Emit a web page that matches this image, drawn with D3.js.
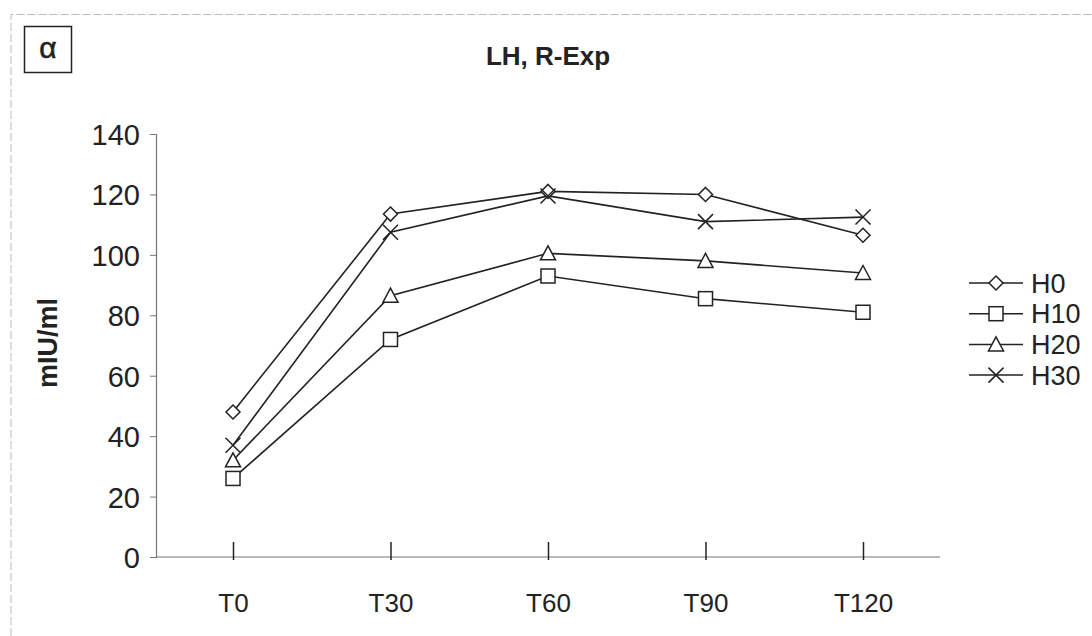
<!DOCTYPE html>
<html><head><meta charset="utf-8">
<script src="https://cdn.jsdelivr.net/npm/d3@7"></script>
<style>body{margin:0;background:#fff}svg{display:block}text{font-family:"Liberation Sans",Arial,sans-serif;fill:#222}</style>
</head><body><svg id="c" width="1092" height="636"></svg>
<script>
const categories = ["T0","T30","T60","T90","T120"];
const seriesNames = ["H0","H10","H20","H30"];
const H0  = [48, 113.5, 121, 120, 106.5];
const H10 = [26, 72, 93, 85.5, 81];
const H20 = [32, 86.5, 100.5, 98, 94];
const H30 = [37, 107.5, 119.5, 111, 112.5];
const yTicks = [0,20,40,60,80,100,120,140];
const title = "LH, R-Exp";
const yLabel = "mIU/ml";
const panelLabel = "α";

const series = [
  {name: seriesNames[0], values: H0, sym: "diamond"},
  {name: seriesNames[1], values: H10, sym: "square"},
  {name: seriesNames[2], values: H20, sym: "triangle"},
  {name: seriesNames[3], values: H30, sym: "cross"}
];

const svg = d3.select("#c");
const ink = "#222";
// outer frame (top and left edges visible in the scan)
svg.append("path").attr("d","M11,636V14.5H1092")
  .attr("fill","none").attr("stroke","#bbb").attr("stroke-width",1).attr("stroke-dasharray","8,3");

// panel label box
svg.append("rect").attr("x",24.5).attr("y",26.5).attr("width",47).attr("height",46)
  .attr("fill","#fff").attr("stroke",ink).attr("stroke-width",1.5);
svg.append("text").attr("x",48).attr("y",58).attr("text-anchor","middle")
  .attr("font-size",30).attr("stroke",ink).attr("stroke-width",0.6).text(panelLabel);

svg.append("text").attr("x",548).attr("y",65).attr("text-anchor","middle")
  .attr("font-size",26).attr("font-weight","bold").text(title);

const x0 = 156, x1 = 940;
const xp = d3.scalePoint().domain(categories).range([233, 863]);
const y = d3.scaleLinear().domain([0,140]).range([557,134]);

// y axis
const gy = svg.append("g").attr("transform",`translate(${x0},0)`)
  .call(d3.axisLeft(y).tickValues(yTicks).tickSize(6).tickPadding(10));
gy.select(".domain").attr("stroke","#777").attr("stroke-width",1.2);
gy.selectAll(".tick line").attr("stroke","#777");
gy.selectAll(".tick text").attr("font-size",29).attr("fill",ink).attr("dy","0.36em");

// x axis
const gx = svg.append("g").attr("transform",`translate(0,${y(0)})`)
  .call(d3.axisBottom(xp).tickSize(-15).tickPadding(30).tickSizeOuter(0));
gx.select(".domain").attr("d",`M${x0},0H${x1}`).attr("stroke","#777").attr("stroke-width",1.2);
gx.selectAll(".tick line").attr("stroke",ink).attr("stroke-width",1.5).attr("y2",-15).attr("y1",3);
gx.selectAll(".tick text").attr("font-size",26).attr("fill",ink).attr("dy","0.36em").attr("y",46);

svg.append("text").attr("transform","translate(57,343) rotate(-90)").attr("text-anchor","middle")
  .attr("font-size",27).attr("font-weight","bold").text(yLabel);

function marker(g, sym, cx, cy){
  const s = g.append("g").attr("transform",`translate(${cx},${cy})`);
  if(sym==="diamond") s.append("path").attr("d","M0,-7L7,0L0,7L-7,0Z");
  else if(sym==="square") s.append("rect").attr("x",-7).attr("y",-7).attr("width",14).attr("height",14);
  else if(sym==="triangle") s.append("path").attr("d","M0,-7.5L7.5,6.5L-7.5,6.5Z");
  else { s.append("path").attr("d","M-7.5,-7.5L7.5,7.5M-7.5,7.5L7.5,-7.5"); }
  s.selectAll("*").attr("fill","#fff").attr("stroke",ink).attr("stroke-width",1.5);
}

const line = d3.line().x((d,i)=>xp(categories[i])).y(d=>y(d));
series.forEach(s=>{
  svg.append("path").datum(s.values).attr("d",line).attr("fill","none").attr("stroke",ink).attr("stroke-width",1.6);
});
series.forEach(s=>{
  const g = svg.append("g");
  s.values.forEach((v,i)=> marker(g, s.sym, xp(categories[i]), y(v)));
});

// legend
const ly0 = 283, ldy = 30.7;
series.forEach((s,i)=>{
  const ly = ly0 + i*ldy;
  svg.append("line").attr("x1",969).attr("x2",1023).attr("y1",ly).attr("y2",ly).attr("stroke",ink).attr("stroke-width",1.5);
  marker(svg, s.sym, 996, ly);
  svg.append("text").attr("x",1031).attr("y",ly).attr("dy","0.36em").attr("font-size",27).text(s.name);
});
</script></body></html>
